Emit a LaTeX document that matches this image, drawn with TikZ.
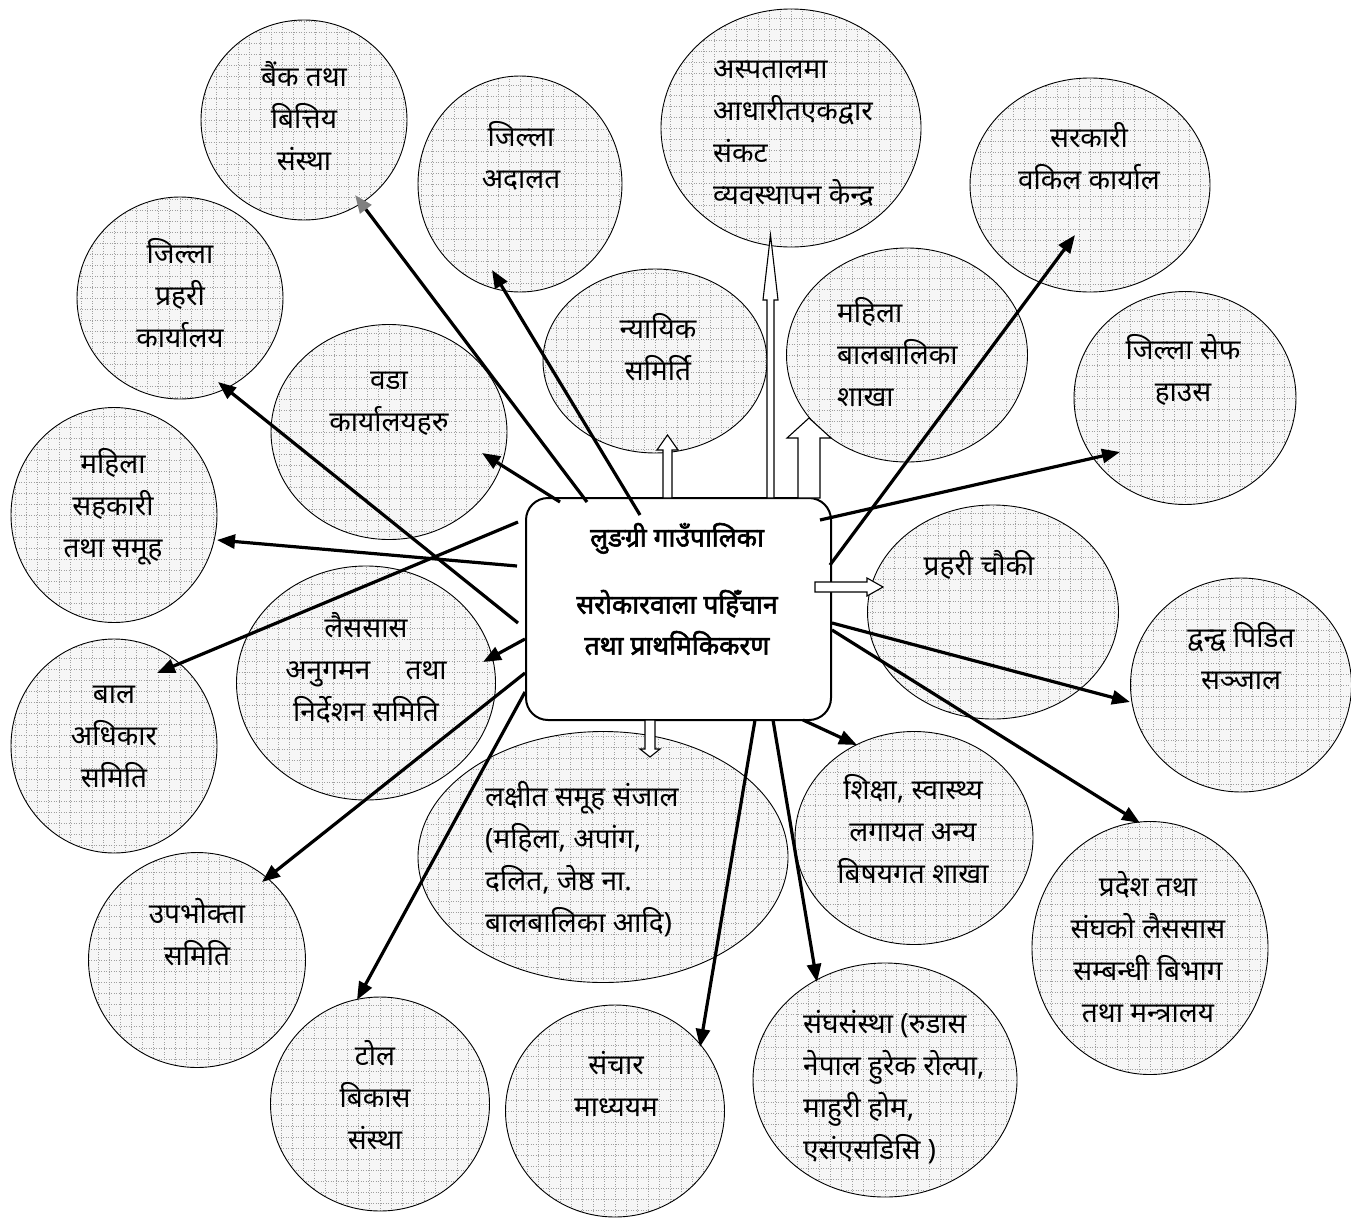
\documentclass[tikz,border=0pt]{standalone}
\usepackage{fontspec}
\newfontfamily\deva[Script=Devanagari]{Noto Sans}
\newfontfamily\devab[Script=Devanagari,FakeBold=2.2]{Noto Sans}
\usetikzlibrary{arrows.meta,shapes.geometric}
\begin{document}
\begin{tikzpicture}[x=1pt,y=-1pt,
  bubble/.style={ellipse, draw=black, line width=0.9pt, inner sep=0pt,
    path picture={
      \fill[gray!7] (path picture bounding box.south west) rectangle (path picture bounding box.north east);
      \draw[gray!75, line width=0.9pt, dash pattern=on 0.9pt off 1.6pt]
        (path picture bounding box.south west) grid[step=11pt] (path picture bounding box.north east);}},
  txt/.style={font=\deva\fontsize{28}{42}\selectfont, align=center, inner sep=0pt},
  ltxt/.style={txt, align=left, anchor=west},
  arr/.style={line width=3.2pt, -{Triangle[length=18pt,width=14pt]}},
  garr/.style={line width=3.2pt, -{Triangle[length=18pt,width=14pt,color=gray]}},
  hollow/.style={draw=black, fill=white, line width=1.1pt, line join=miter}
]
\useasboundingbox (0,0) rectangle (1351,1218);

% ---- ellipses ----
\node[bubble, minimum width=206pt, minimum height=200pt] (bank) at (304,120) {};
\node[txt] (bankT) at (304,116) {बैंक तथा\\बित्तिय\\संस्था};

\node[bubble, minimum width=206pt, minimum height=202pt] (police) at (180,298) {};
\node[txt] (policeT) at (180,293) {जिल्ला\\प्रहरी\\कार्यालय};

\node[bubble, minimum width=204pt, minimum height=216pt] (court) at (520,184) {};
\node[txt] (courtT) at (521,156) {जिल्ला\\अदालत};

\node[bubble, minimum width=260pt, minimum height=238pt] (hosp) at (791,128) {};
\node[ltxt] (hospT) at (713,134) {अस्पतालमा\\आधारीतएकद्वार\\संकट\\व्यवस्थापन केन्द्र};

\node[bubble, minimum width=240pt, minimum height=214pt] (lawyer) at (1090,185) {};
\node[txt] (lawyerT) at (1089,156) {सरकारी\\वकिल कार्याल};

\node[bubble, minimum width=224pt, minimum height=184pt] (judic) at (655,361) {};
\node[txt] (judicT) at (658,347) {न्यायिक\\समिर्ति};

\node[bubble, minimum width=241pt, minimum height=214pt] (wcb) at (907,355) {};
\node[ltxt] (wcbT) at (837,352) {महिला\\बालबालिका\\शाखा};

\node[bubble, minimum width=222pt, minimum height=213pt] (safe) at (1185,398) {};
\node[txt] (safeT) at (1183,370) {जिल्ला सेफ\\हाउस};

\node[bubble, minimum width=236pt, minimum height=215pt] (ward) at (389,432) {};
\node[txt] (wardT) at (389,404) {वडा\\कार्यालयहरु};

\node[bubble, minimum width=206pt, minimum height=215pt] (coop) at (114,515) {};
\node[txt] (coopT) at (113,507) {महिला\\सहकारी\\तथा समूह};

\node[bubble, minimum width=259pt, minimum height=234pt] (gbv) at (366,683) {};
\node[txt] (gbvT) at (366,668) {लैससास\\अनुगमन\quad\ तथा\\निर्देशन समिति};

\node[bubble, minimum width=206pt, minimum height=214pt] (child) at (114,746) {};
\node[txt] (childT) at (114,737) {बाल\\अधिकार\\समिति};

\node[bubble, minimum width=251pt, minimum height=214pt] (post) at (993,612) {};
\node[txt] (postT) at (979,565) {प्रहरी चौकी};

\node[bubble, minimum width=221pt, minimum height=214pt] (conflict) at (1241,685) {};
\node[txt] (conflictT) at (1241,656) {द्वन्द्व पिडित\\सञ्जाल};

\node[bubble, minimum width=370pt, minimum height=251pt] (target) at (603,857) {};
\node[ltxt] (targetT) at (485,859) {लक्षीत समूह संजाल\\(महिला, अपांग,\\दलित, जेष्ठ ना.\\बालबालिका आदि)};

\node[bubble, minimum width=238pt, minimum height=213pt] (edu) at (914,838) {};
\node[txt] (eduT) at (913,829) {शिक्षा, स्वास्थ्य\\लगायत अन्य\\बिषयगत शाखा};

\node[bubble, minimum width=236pt, minimum height=253pt] (prov) at (1150,948) {};
\node[txt] (provT) at (1148,947) {प्रदेश तथा\\संघको लैससास\\सम्बन्धी बिभाग\\तथा मन्त्रालय};

\node[bubble, minimum width=217pt, minimum height=215pt] (user) at (197,960) {};
\node[txt] (userT) at (197,932) {उपभोक्ता\\समिति};

\node[bubble, minimum width=219pt, minimum height=214pt] (tole) at (380,1104) {};
\node[txt] (toleT) at (375,1095) {टोल\\बिकास\\संस्था};

\node[bubble, minimum width=219pt, minimum height=212pt] (media) at (615,1111) {};
\node[txt] (mediaT) at (616,1084) {संचार\\माध्ययम};

\node[bubble, minimum width=264pt, minimum height=234pt] (ngo) at (885,1080) {};
\node[ltxt] (ngoT) at (803,1087) {संघसंस्था (रुडास\\नेपाल हुरेक रोल्पा,\\माहुरी होम,\\एसंएसडिसि )};

% ---- central box ----
\node[draw=black, line width=2pt, rounded corners=22pt, fill=white,
      minimum width=305pt, minimum height=222pt, inner sep=0pt] (box) at (678.5,609) {};
\node[font=\devab\fontsize{26.5}{41}\selectfont, align=center, inner sep=0pt] (boxT) at (677,589)
  {लुङग्री गाउँपालिका\\[26pt]सरोकारवाला पहिँचान\\तथा प्राथमिकिकरण};

% ---- hollow block arrows ----
\draw[hollow] (663,498) -- (663,450) -- (657,450) -- (667.5,435) -- (678,450) -- (672,450) -- (672,498) -- cycle;
\draw[hollow] (767,498) -- (767,300) -- (763,300) -- (770.5,235) -- (778,300) -- (774,300) -- (774,498) -- cycle;
\draw[hollow] (798,498) -- (798,438) -- (787,438) -- (809,418) -- (831,438) -- (820,438) -- (820,498) -- cycle;
\draw[hollow] (815,582) -- (867,582) -- (867,578) -- (883,587) -- (867,596) -- (867,592) -- (815,592) -- cycle;
\draw[hollow] (645,720) -- (645,749) -- (640,749) -- (650,757) -- (660,749) -- (655,749) -- (655,720) -- cycle;

% ---- connector end points ----
\coordinate (s1) at (587,502);  \coordinate (e1) at (355,195);
\coordinate (s2) at (640,515);  \coordinate (e2) at (492,270);
\coordinate (s3) at (560,502);  \coordinate (e3) at (482,453);
\coordinate (s4) at (518,623);  \coordinate (e4) at (218,382);
\coordinate (s5) at (517,566);  \coordinate (e5) at (217,540);
\coordinate (s6) at (518,522);  \coordinate (e6) at (157,673);
\coordinate (s7) at (525,639);  \coordinate (e7) at (483,662);
\coordinate (s8) at (525,673);  \coordinate (e8) at (262,882);
\coordinate (s9) at (525,692);  \coordinate (e9) at (357,1000);
\coordinate (s10) at (755,720); \coordinate (e10) at (700,1047);
\coordinate (s11) at (773,720); \coordinate (e11) at (817,982);
\coordinate (s12) at (803,720); \coordinate (e12) at (857,745);
\coordinate (s13) at (820,520); \coordinate (e13) at (1120,452);
\coordinate (s14) at (830,565); \coordinate (e14) at (1075,235);
\coordinate (s15) at (832,623); \coordinate (e15) at (1130,702);
\coordinate (s16) at (832,630); \coordinate (e16) at (1140,823);

\draw[garr] (s1) -- (e1);
\foreach \i in {2,...,16} { \draw[arr] (s\i) -- (e\i); }
\end{tikzpicture}
\end{document}
